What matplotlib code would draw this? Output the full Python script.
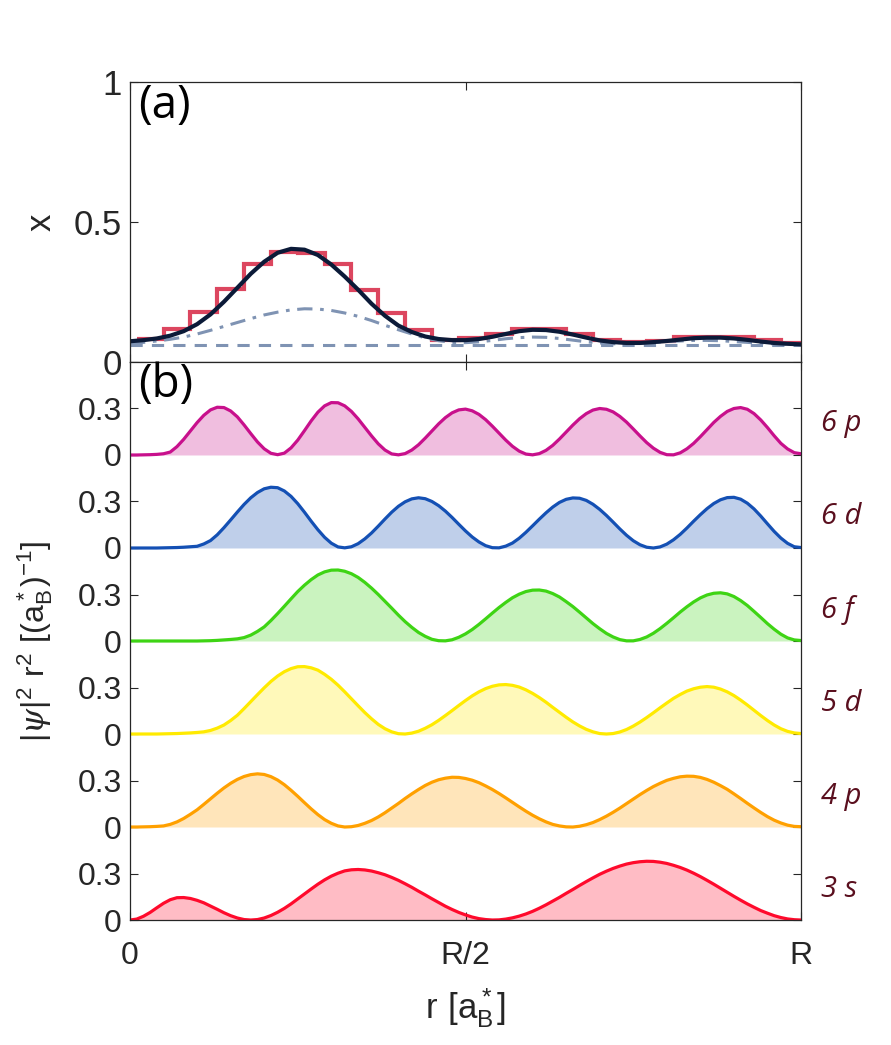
import numpy as np
from matplotlib import pyplot as plt

plt.rcParams['font.family'] = ['Liberation Sans', 'DejaVu Sans']
plt.rcParams['mathtext.fontset'] = 'custom'
plt.rcParams['mathtext.rm'] = 'Liberation Sans'
plt.rcParams['mathtext.it'] = 'DejaVu Serif:italic'

# ---- panel (a): r in units of R, step 0.02
r_a = np.linspace(0, 1, 51)
x_total = [0.074, 0.078, 0.084, 0.094, 0.110, 0.135, 0.170, 0.215, 0.265, 0.315,
           0.358, 0.390, 0.404, 0.401, 0.382, 0.348, 0.305, 0.258, 0.208, 0.165,
           0.130, 0.107, 0.091, 0.082, 0.078, 0.078, 0.082, 0.090, 0.100, 0.110,
           0.115, 0.114, 0.108, 0.098, 0.087, 0.077, 0.071, 0.068, 0.068, 0.071,
           0.075, 0.080, 0.085, 0.087, 0.087, 0.084, 0.079, 0.073, 0.068, 0.065,
           0.063]
x_part = [0.066, 0.070, 0.075, 0.081, 0.089, 0.100, 0.113, 0.127, 0.141, 0.155,
          0.168, 0.178, 0.186, 0.190, 0.189, 0.184, 0.175, 0.163, 0.148, 0.131,
          0.115, 0.100, 0.086, 0.076, 0.070, 0.069, 0.072, 0.077, 0.083, 0.087,
          0.089, 0.088, 0.084, 0.078, 0.072, 0.068, 0.065, 0.065, 0.067, 0.070,
          0.073, 0.075, 0.077, 0.077, 0.076, 0.073, 0.070, 0.067, 0.065, 0.064,
          0.063]
x_const = [0.062, 0.062]
r_const = [0.0, 1.0]

step_edges = [0.01, 0.05, 0.09, 0.13, 0.17, 0.21, 0.25, 0.29, 0.33, 0.37, 0.41,
              0.45, 0.49, 0.53, 0.57, 0.61, 0.65, 0.69, 0.73, 0.77, 0.81, 0.85,
              0.89, 0.93, 0.97, 1.0]
step_vals = [0.081, 0.117, 0.179, 0.260, 0.349, 0.393, 0.390, 0.349, 0.258, 0.175,
             0.113, 0.080, 0.087, 0.099, 0.118, 0.118, 0.100, 0.080, 0.070, 0.076,
             0.089, 0.089, 0.089, 0.079, 0.068]

# ---- panel (b): |psi|^2 r^2, r step 0.01
r_b = np.linspace(0, 1, 101)
d_6p = [0.000, 0.000, 0.001, 0.002, 0.004, 0.008, 0.019, 0.054, 0.101, 0.155,
        0.209, 0.256, 0.291, 0.308, 0.306, 0.284, 0.246, 0.194, 0.138, 0.084,
        0.040, 0.011, 0.002, 0.012, 0.046, 0.096, 0.157, 0.220, 0.276, 0.317,
        0.338, 0.337, 0.317, 0.281, 0.233, 0.178, 0.123, 0.072, 0.032, 0.007,
        0.001, 0.009, 0.032, 0.066, 0.109, 0.155, 0.201, 0.241, 0.272, 0.291,
        0.296, 0.285, 0.262, 0.228, 0.186, 0.141, 0.096, 0.056, 0.025, 0.006,
        0.001, 0.009, 0.030, 0.062, 0.103, 0.148, 0.193, 0.234, 0.267, 0.290,
        0.300, 0.295, 0.278, 0.249, 0.212, 0.168, 0.123, 0.080, 0.044, 0.017,
        0.002, 0.001, 0.014, 0.040, 0.075, 0.118, 0.164, 0.210, 0.249, 0.281,
        0.300, 0.306, 0.295, 0.267, 0.226, 0.177, 0.124, 0.075, 0.039, 0.015,
        0.008]
d_6d = [0.000, 0.000, 0.000, 0.000, 0.000, 0.001, 0.002, 0.003, 0.005, 0.008,
        0.011, 0.026, 0.048, 0.085, 0.131, 0.181, 0.232, 0.281, 0.324, 0.358,
        0.382, 0.392, 0.389, 0.368, 0.333, 0.286, 0.231, 0.173, 0.118, 0.069,
        0.031, 0.007, 0.001, 0.008, 0.028, 0.059, 0.097, 0.141, 0.187, 0.231,
        0.269, 0.298, 0.317, 0.324, 0.318, 0.300, 0.273, 0.238, 0.197, 0.153,
        0.110, 0.071, 0.039, 0.015, 0.002, 0.001, 0.012, 0.032, 0.063, 0.101,
        0.143, 0.186, 0.227, 0.264, 0.294, 0.314, 0.323, 0.321, 0.307, 0.282,
        0.249, 0.210, 0.167, 0.123, 0.082, 0.047, 0.021, 0.005, 0.000, 0.007,
        0.025, 0.053, 0.088, 0.129, 0.173, 0.215, 0.254, 0.287, 0.311, 0.325,
        0.327, 0.315, 0.289, 0.252, 0.206, 0.156, 0.107, 0.064, 0.030, 0.008,
        0.003]
d_6f = [0.000, 0.000, 0.000, 0.000, 0.000, 0.000, 0.000, 0.000, 0.000, 0.000,
        0.000, 0.001, 0.002, 0.004, 0.007, 0.010, 0.014, 0.022, 0.038, 0.062,
        0.091, 0.132, 0.177, 0.224, 0.272, 0.319, 0.360, 0.396, 0.426, 0.446,
        0.457, 0.458, 0.450, 0.434, 0.410, 0.378, 0.341, 0.300, 0.256, 0.212,
        0.167, 0.125, 0.088, 0.055, 0.030, 0.011, 0.002, 0.001, 0.008, 0.024,
        0.046, 0.074, 0.107, 0.143, 0.180, 0.216, 0.249, 0.279, 0.302, 0.319,
        0.328, 0.329, 0.322, 0.306, 0.284, 0.254, 0.222, 0.186, 0.149, 0.112,
        0.079, 0.049, 0.026, 0.009, 0.001, 0.001, 0.010, 0.026, 0.050, 0.080,
        0.114, 0.150, 0.187, 0.221, 0.252, 0.278, 0.297, 0.308, 0.311, 0.304,
        0.287, 0.261, 0.229, 0.191, 0.152, 0.112, 0.076, 0.044, 0.020, 0.007,
        0.003]
d_5d = [0.000, 0.000, 0.000, 0.000, 0.000, 0.001, 0.002, 0.003, 0.005, 0.007,
        0.010, 0.014, 0.023, 0.038, 0.058, 0.087, 0.121, 0.164, 0.209, 0.254,
        0.298, 0.339, 0.374, 0.402, 0.422, 0.434, 0.435, 0.427, 0.412, 0.385,
        0.353, 0.315, 0.272, 0.227, 0.182, 0.138, 0.098, 0.062, 0.034, 0.014,
        0.002, 0.000, 0.006, 0.018, 0.037, 0.060, 0.088, 0.119, 0.151, 0.184,
        0.216, 0.246, 0.272, 0.293, 0.308, 0.317, 0.319, 0.314, 0.303, 0.285,
        0.262, 0.235, 0.205, 0.172, 0.140, 0.108, 0.078, 0.052, 0.030, 0.014,
        0.003, 0.000, 0.003, 0.013, 0.029, 0.051, 0.077, 0.106, 0.137, 0.169,
        0.200, 0.230, 0.255, 0.277, 0.292, 0.302, 0.306, 0.302, 0.290, 0.272,
        0.248, 0.219, 0.187, 0.153, 0.119, 0.087, 0.058, 0.034, 0.017, 0.007,
        0.003]
d_4p = [0.000, 0.000, 0.001, 0.002, 0.004, 0.007, 0.017, 0.033, 0.055, 0.082,
        0.111, 0.146, 0.182, 0.218, 0.252, 0.282, 0.307, 0.326, 0.338, 0.343,
        0.339, 0.325, 0.303, 0.273, 0.237, 0.198, 0.157, 0.117, 0.080, 0.048,
        0.024, 0.007, 0.000, 0.002, 0.010, 0.024, 0.042, 0.065, 0.092, 0.122,
        0.152, 0.184, 0.214, 0.242, 0.268, 0.289, 0.305, 0.315, 0.321, 0.320,
        0.313, 0.302, 0.286, 0.265, 0.242, 0.216, 0.188, 0.159, 0.130, 0.102,
        0.076, 0.053, 0.033, 0.017, 0.007, 0.001, 0.000, 0.005, 0.015, 0.029,
        0.048, 0.070, 0.095, 0.122, 0.151, 0.180, 0.209, 0.236, 0.261, 0.282,
        0.301, 0.314, 0.324, 0.328, 0.327, 0.320, 0.307, 0.289, 0.267, 0.243,
        0.214, 0.184, 0.153, 0.123, 0.094, 0.067, 0.044, 0.026, 0.012, 0.004,
        0.002]
d_3s = [0.000, 0.006, 0.024, 0.049, 0.079, 0.108, 0.131, 0.144, 0.145, 0.139,
        0.127, 0.111, 0.090, 0.069, 0.047, 0.028, 0.013, 0.003, 0.000, 0.003,
        0.013, 0.029, 0.050, 0.075, 0.104, 0.136, 0.168, 0.200, 0.231, 0.259,
        0.283, 0.302, 0.317, 0.324, 0.326, 0.323, 0.316, 0.305, 0.292, 0.275,
        0.256, 0.234, 0.211, 0.186, 0.162, 0.137, 0.113, 0.089, 0.068, 0.049,
        0.033, 0.019, 0.009, 0.003, 0.000, 0.001, 0.006, 0.014, 0.025, 0.039,
        0.056, 0.076, 0.098, 0.122, 0.146, 0.172, 0.197, 0.223, 0.248, 0.272,
        0.295, 0.315, 0.333, 0.348, 0.361, 0.370, 0.376, 0.379, 0.378, 0.373,
        0.365, 0.353, 0.339, 0.322, 0.302, 0.280, 0.256, 0.231, 0.205, 0.179,
        0.153, 0.128, 0.104, 0.082, 0.061, 0.044, 0.028, 0.016, 0.007, 0.002,
        0.000]

states = ['3 s', '4 p', '5 d', '6 f', '6 d', '6 p']
series = [d_3s, d_4p, d_5d, d_6f, d_6d, d_6p]
colors = ['#ff0a2c', '#ffa000', '#ffea00', '#3ed414', '#1450b4', '#c8108c']
offsets = [0.0, 0.6, 1.2, 1.8, 2.4, 3.0]

axis_col = '#262626'
fig = plt.figure(figsize=(8.91, 10.45), dpi=100)
ax_a = fig.add_axes([0.1459, 0.6536, 0.7531, 0.268])
ax_b = fig.add_axes([0.1459, 0.1196, 0.7531, 0.534])

# (a)
ax_a.plot(r_const, x_const, ls=(0, (4, 3)), c='#7f93b3', lw=2.2)
ax_a.plot(r_a, x_part, ls=(0, (5, 2.5, 1.2, 2.5)), c='#7f93b3', lw=2.2)
ax_a.stairs(step_vals, step_edges, baseline=None, color='#dc465f', lw=3)
ax_a.plot(r_a, x_total, c='#0b1a38', lw=3)
ax_a.set_xlim(0, 1)
ax_a.set_ylim(0, 1)
ax_a.set_yticks([0, 0.5, 1])
ax_a.set_yticklabels(['0', '0.5', '1'])
ax_a.set_xticks([0, 0.5, 1])
ax_a.set_xticklabels([])
ax_a.set_ylabel('x', fontsize=25, color=axis_col)
ax_a.yaxis.set_label_coords(-0.108, 0.5)
ax_a.text(0.012, 0.995, '(a)', transform=ax_a.transAxes, fontsize=33,
          va='top', ha='left', family='Open Sans')

# (b)
for vals, off, col, name in zip(series, offsets, colors, states):
    top = off + np.array(vals)
    ax_b.fill_between(r_b, off, top, color=col, alpha=0.27, lw=0)
    ax_b.plot(r_b, top, c=col, lw=2.3)
    ax_b.text(1.03, off + 0.2, name, transform=ax_b.get_yaxis_transform(),
              fontsize=21, style='italic', color='#5a0f1e', va='center',
              ha='left', family='Open Sans')
ax_b.set_xlim(0, 1)
ax_b.set_ylim(0, 3.6)
ax_b.set_yticks(np.arange(12) * 0.3)
ax_b.set_yticklabels(['0', '0.3'] * 6)
ax_b.set_xticks([0, 0.5, 1])
ax_b.set_xticklabels(['0', 'R/2', 'R'])
ax_b.set_ylabel(r'$|\psi|^2\ \mathrm{r}^2\ [(\mathrm{a}_\mathrm{B}^*)^{-1}]$',
                fontsize=23, color=axis_col)
ax_b.yaxis.set_label_coords(-0.112, 0.5)
ax_b.set_xlabel(r'$\mathrm{r}\ [\mathrm{a}_\mathrm{B}^*]$', fontsize=25,
                color=axis_col, labelpad=11)
ax_b.text(0.012, 1.0, '(b)', transform=ax_b.transAxes, fontsize=33,
          va='top', ha='left', family='Open Sans')

for ax in (ax_a, ax_b):
    ax.tick_params(direction='in', length=6, width=0.8, colors=axis_col,
                   top=True, right=True, pad=6)
    for s in ax.spines.values():
        s.set_color(axis_col)
        s.set_linewidth(0.9)
ax_a.tick_params(labelsize=25)
ax_b.tick_params(axis='y', labelsize=23)
ax_b.tick_params(axis='x', labelsize=23, pad=15)

fig.savefig('out.png', dpi=100)
